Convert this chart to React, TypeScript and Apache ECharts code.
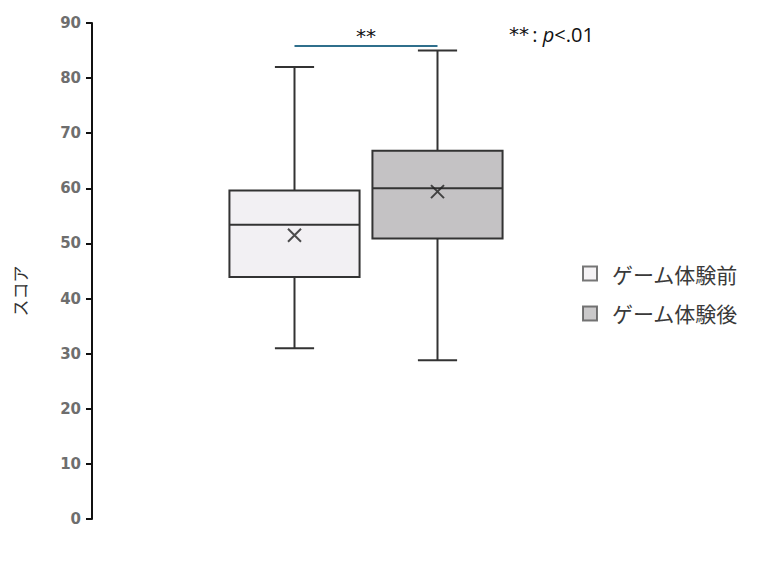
import * as echarts from "echarts";
import React, { useEffect, useRef } from 'react';

// groups and box statistics (score)
const categories = ['ゲーム体験前', 'ゲーム体験後'];
const whiskerLow = [31, 28.8];
const q1 = [43.9, 50.9];
const median = [53.4, 60];
const q3 = [59.6, 66.8];
const whiskerHigh = [82, 85];
const means = [51.5, 59.4];
const boxFills = ['#f2f0f3', '#c4c2c4'];

// significance bracket
const sigLevel = 85.8;
const sigLabel = '**';

const BoxChart: React.FC = () => {
    const chartRef = useRef<HTMLDivElement>(null);

    useEffect(() => {
        if (!chartRef.current) return;
        document.body.style.margin = '0';

        const chart = echarts.init(chartRef.current, null, { renderer: 'svg' });

        const boxData = categories.map((_, i) => [i, whiskerLow[i], q1[i], median[i], q3[i], whiskerHigh[i]]);

        const option = {
            animation: false,
            grid: { left: 223, right: 259, top: 23, bottom: 67 },
            legend: {
                orient: 'vertical',
                left: 577,
                top: 258,
                itemWidth: 14,
                itemHeight: 14,
                itemGap: 19,
                icon: 'rect',
                textStyle: {
                    fontFamily: 'Noto Sans CJK JP',
                    fontSize: 21,
                    color: '#3a3a3a',
                    padding: [0, 0, 0, 10]
                },
                data: categories
            },
            xAxis: {
                type: 'category',
                data: categories,
                show: false
            },
            yAxis: {
                type: 'value',
                min: 0,
                max: 90,
                interval: 10,
                offset: 131,
                name: 'スコア',
                nameLocation: 'middle',
                nameGap: 64,
                nameTextStyle: {
                    fontFamily: 'Noto Sans CJK JP',
                    fontSize: 17,
                    color: '#333',
                    padding: [0, 40, 0, 0]
                },
                axisLine: { show: true, lineStyle: { color: '#111', width: 2 } },
                axisTick: { show: true, length: 6, lineStyle: { color: '#111', width: 2 } },
                axisLabel: {
                    fontFamily: 'DejaVu Sans',
                    fontWeight: 'bold',
                    fontSize: 15,
                    color: '#6e6e6e',
                    margin: 11
                },
                splitLine: { show: false }
            },
            graphic: [
                {
                    type: 'text',
                    left: 509,
                    top: 24,
                    style: {
                        text: '{a|**} {b|: }{c|p}{b|<.01}',
                        rich: {
                            a: { fontFamily: 'DejaVu Sans', fontSize: 20, fill: '#111' },
                            b: { fontFamily: 'Open Sans', fontSize: 20, fill: '#111' },
                            c: { fontFamily: 'Open Sans', fontSize: 20, fontStyle: 'italic', fill: '#111' }
                        }
                    }
                }
            ],
            series: [
                {
                    type: 'custom',
                    name: 'box',
                    data: boxData,
                    encode: { x: 0, y: [1, 2, 3, 4, 5] },
                    renderItem: (params: any, api: any) => {
                        const idx = api.value(0);
                        const band = api.size([1, 0])[0];
                        const halfBox = band * 0.455;
                        const halfCap = band * 0.137;
                        const pLow = api.coord([idx, api.value(1)]);
                        const pQ1 = api.coord([idx, api.value(2)]);
                        const pMed = api.coord([idx, api.value(3)]);
                        const pQ3 = api.coord([idx, api.value(4)]);
                        const pHigh = api.coord([idx, api.value(5)]);
                        const cx = pLow[0];
                        const line = { stroke: '#333', lineWidth: 2 };
                        return {
                            type: 'group',
                            children: [
                                { type: 'line', shape: { x1: cx, y1: pHigh[1], x2: cx, y2: pQ3[1] }, style: line },
                                { type: 'line', shape: { x1: cx, y1: pQ1[1], x2: cx, y2: pLow[1] }, style: line },
                                { type: 'line', shape: { x1: cx - halfCap, y1: pHigh[1], x2: cx + halfCap, y2: pHigh[1] }, style: line },
                                { type: 'line', shape: { x1: cx - halfCap, y1: pLow[1], x2: cx + halfCap, y2: pLow[1] }, style: line },
                                {
                                    type: 'rect',
                                    shape: { x: cx - halfBox, y: pQ3[1], width: halfBox * 2, height: pQ1[1] - pQ3[1] },
                                    style: { fill: boxFills[idx], stroke: '#333', lineWidth: 2 }
                                },
                                { type: 'line', shape: { x1: cx - halfBox, y1: pMed[1], x2: cx + halfBox, y2: pMed[1] }, style: line }
                            ]
                        };
                    },
                    markLine: {
                        silent: true,
                        symbol: 'none',
                        lineStyle: { color: '#2f6f8c', width: 2, type: 'solid' },
                        label: {
                            show: true,
                            position: 'middle',
                            formatter: sigLabel,
                            fontFamily: 'DejaVu Sans',
                            fontSize: 20,
                            color: '#111',
                            distance: 0
                        },
                        data: [[
                            { coord: [0, sigLevel] },
                            { coord: [1, sigLevel] }
                        ]]
                    },
                    z: 2
                },
                {
                    type: 'scatter',
                    name: 'mean',
                    data: means.map((m, i) => [i, m]),
                    symbol: 'path://M0,0L10,10M10,0L0,10',
                    symbolSize: 13,
                    itemStyle: { color: 'none', borderColor: '#222', borderWidth: 2 },
                    z: 5
                },
                {
                    type: 'scatter',
                    name: categories[0],
                    data: [],
                    itemStyle: { color: '#f2f0f3', borderColor: '#555', borderWidth: 1.5 }
                },
                {
                    type: 'scatter',
                    name: categories[1],
                    data: [],
                    itemStyle: { color: '#bdbbbd', borderColor: '#555', borderWidth: 1.5 }
                }
            ]
        };

        chart.setOption(option);

        const handleResize = () => chart.resize();
        window.addEventListener('resize', handleResize);

        return () => {
            window.removeEventListener('resize', handleResize);
            chart.dispose();
        };
    }, []);

    return (
        <div ref={chartRef} style={{ width: 768, height: 586 }} />
    );
}

export default function App() {
    return <BoxChart />;
}
